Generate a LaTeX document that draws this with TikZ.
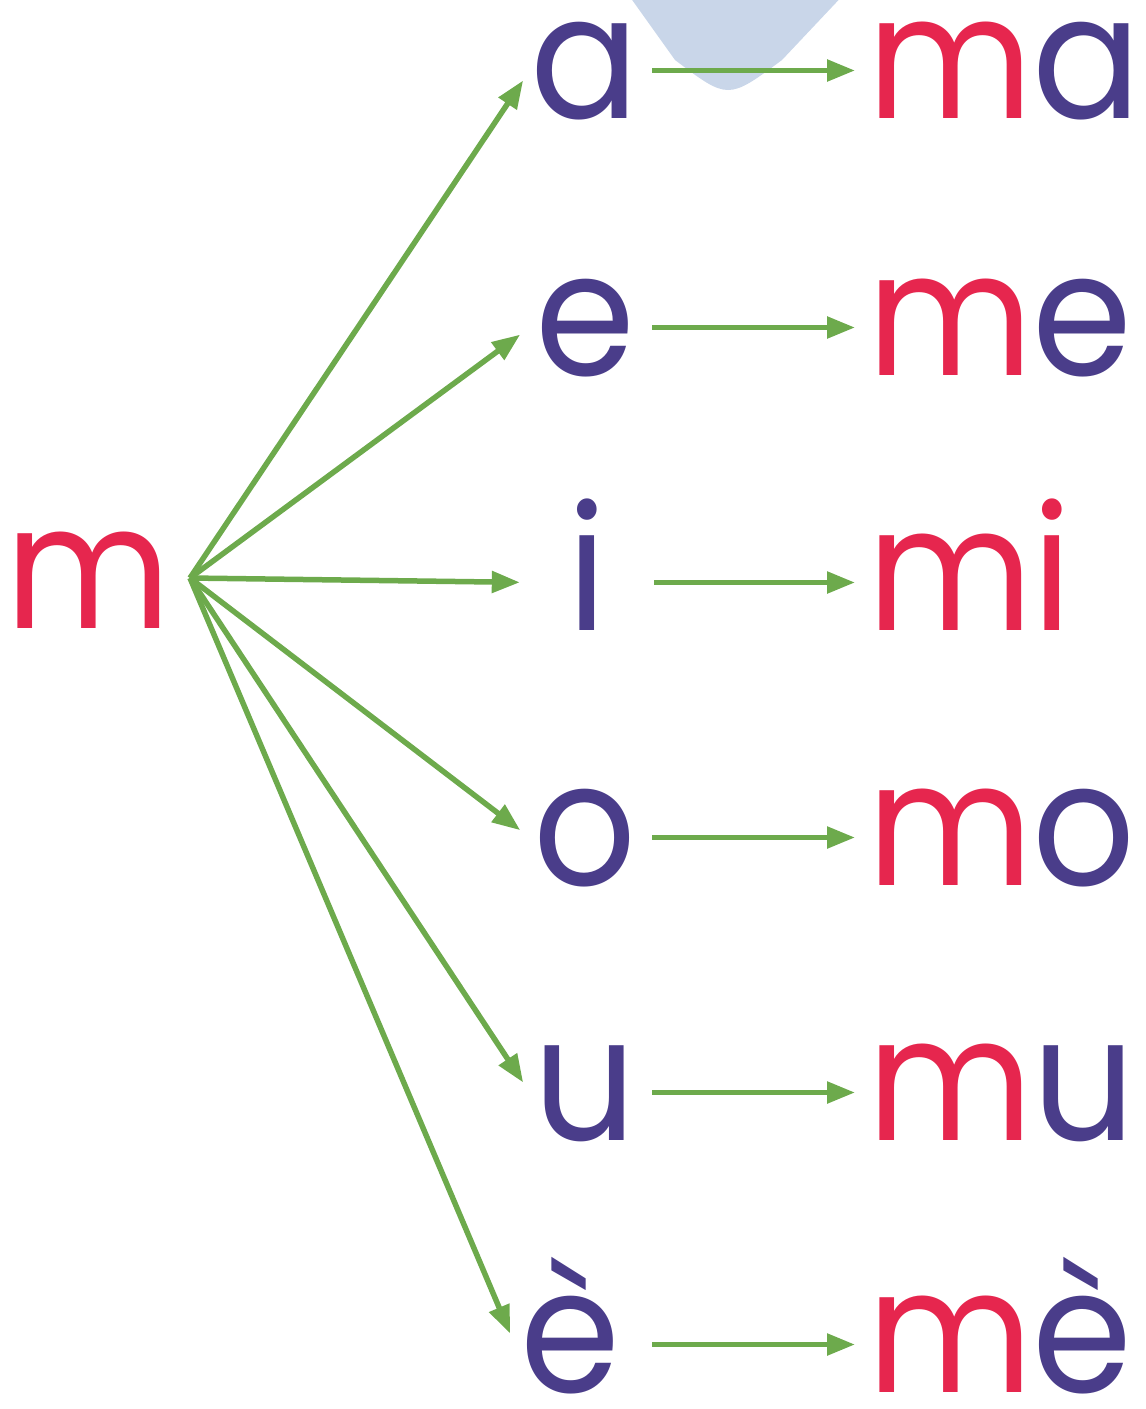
\documentclass[tikz,border=0pt]{standalone}
\usepackage{fontspec}
\setmainfont[FakeStretch=0.93]{Poppins}
\usetikzlibrary{arrows.meta}
\definecolor{rd}{RGB}{230,38,78}
\definecolor{pu}{RGB}{74,61,138}
\definecolor{gr}{RGB}{109,170,76}
\definecolor{lb}{RGB}{201,214,233}
\begin{document}
\begin{tikzpicture}[x=1pt,y=-1pt,
  every node/.style={inner sep=0pt, font=\fontsize{173}{173}\selectfont},
  vowel/.style={text=pu, anchor=base, text height=95pt, text depth=0pt, minimum width=110pt},
  syl/.style={anchor=base west, text height=95pt, text depth=0pt},
  arr/.style={draw=gr, line width=5.5pt, -{Triangle[length=28pt,width=21pt]}}]
\useasboundingbox (0,0) rectangle (1146,1409);
% light blue triangle
\fill[lb] (625,-10) -- (675,60) .. controls (728,100) .. (782,60) -- (848,-10) -- cycle;
% source
\node[text=rd, anchor=base west] (m) at (5,628) {m};
\coordinate (hub) at (190,578);
% vowels
\node[vowel] (va) at (585,118) {a};
\node[vowel] (ve) at (585,375) {e};
\node[vowel] (vi) at (587,630) {i};
\node[vowel] (vo) at (585,885) {o};
\node[vowel] (vu) at (585,1140) {u};
\node[vowel] (vee) at (570,1392) {è};
% syllables
\node[syl] (sa) at (867,118) {\textcolor{rd}{m}\textcolor{pu}{a}};
\node[syl] (se) at (867,375) {\textcolor{rd}{m}\textcolor{pu}{e}};
\node[syl] (si) at (867,630) {\textcolor{rd}{mi}};
\node[syl] (so) at (867,885) {\textcolor{rd}{m}\textcolor{pu}{o}};
\node[syl] (su) at (867,1140) {\textcolor{rd}{m}\textcolor{pu}{u}};
\node[syl] (see) at (867,1392) {\textcolor{rd}{m}\textcolor{pu}{è}};
% fan arrows
\foreach \v in {va,ve,vi,vo,vu,vee}
  \draw[arr, shorten >=12pt] (hub) -- (\v.west);
% horizontal arrows
\foreach \v/\s in {va/sa,ve/se,vi/si,vo/so,vu/su}
  \draw[arr, shorten <=12pt, shorten >=12pt] (\v.east) -- (\s.west);
\draw[arr, shorten <=27pt, shorten >=12pt] (vee.east) -- (see.west);
\end{tikzpicture}
\end{document}
